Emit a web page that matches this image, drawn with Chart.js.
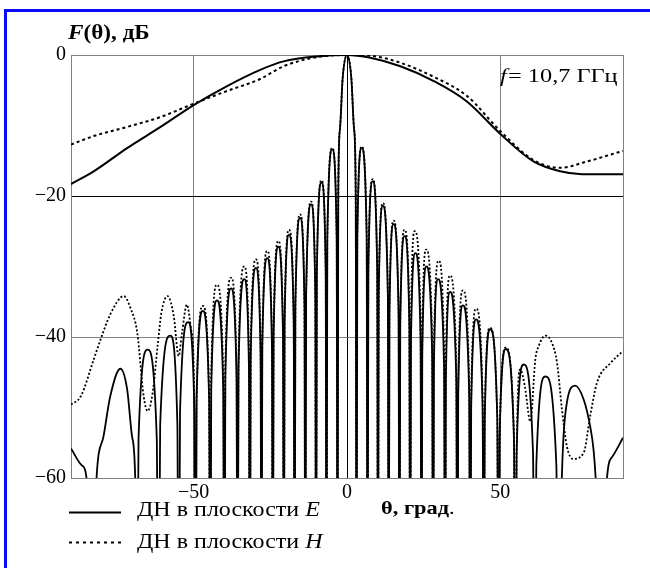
<!DOCTYPE html>
<html><head><meta charset="utf-8">
<script src="https://cdn.jsdelivr.net/npm/chart.js@4/dist/chart.umd.min.js"></script>
<style>html,body{margin:0;padding:0;background:#fff}canvas{display:block}</style>
</head><body>
<canvas id="c" width="650" height="568"></canvas>
<script>
// ---- data (theta in degrees, level in dB) ----
const xTickValues = [-90, -50, 0, 50, 90];
const yTickValues = [0, -20, -40, -60];
const legendLabels = ["ДН в плоскости ", "ДН в плоскости "];
const legendPlanes = ["E", "H"];

// element patterns (wide curves)
const elemE = [[-90,-18.3],[-82.6,-16.5],[-71.7,-13.2],[-60.8,-10.2],[-50,-7.1],[-39.1,-4.4],[-28.3,-2.1],[-20.7,-0.9],[-9.8,-0.2],[0,0],[7.6,-0.4],[17.4,-1.6],[28.3,-3.7],[39.1,-6.6],[50,-11.2],[60.8,-15.1],[69.5,-16.5],[76.6,-16.9],[90,-16.9]];
const elemH = [[-90,-12.7],[-82.6,-11.5],[-71.7,-10.2],[-60.8,-8.8],[-50,-6.9],[-39.1,-5.1],[-28.3,-3.4],[-20.7,-1.6],[-9.8,-0.3],[0,0],[7.6,-0.1],[17.4,-1.1],[28.3,-3.1],[39.1,-5.8],[50,-10.8],[60.8,-14.9],[69.5,-16.0],[78.3,-15.1],[90,-13.6]];

// array patterns (many lobes); values below -60 are nulls outside the plot
const arrE = [
[-90,-55.8],[-86.5,-58.2],[-84.8,-60.5],[-83.5,-90],
[-81.8,-61],[-79.4,-54.1],[-77.2,-48.4],[-73.9,-44.5],[-71.7,-47.4],[-70.1,-54.1],[-69.0,-61],[-68.5,-90],
[-67.98,-54.4],[-65.0,-41.8],[-62.03,-54.4],[-61.5,-90],
[-60.92,-52.4],[-57.6,-39.8],[-55.31,-52.4],[-54.9,-90],
[-54.44,-50.5],[-51.8,-37.9],[-49.76,-50.5],[-49.4,-90],
[-49.04,-48.9],[-47.0,-36.3],[-44.96,-48.9],[-44.6,-90],
[-44.27,-47.4],[-42.4,-34.8],[-40.36,-47.4],[-40.0,-90],
[-39.67,-45.7],[-37.8,-33.1],[-36.02,-45.7],[-35.7,-90],
[-35.37,-44.4],[-33.5,-31.8],[-31.97,-44.4],[-31.7,-90],
[-31.4,-42.8],[-29.7,-30.2],[-28.17,-42.8],[-27.9,-90],
[-27.62,-41.4],[-26.0,-28.8],[-24.47,-41.4],[-24.2,-90],
[-23.93,-39.8],[-22.4,-27.2],[-20.87,-39.8],[-20.6,-90],
[-20.35,-38.1],[-18.9,-25.5],[-17.37,-38.1],[-17.1,-90],
[-16.83,-35.7],[-15.3,-23.1],[-13.86,-35.7],[-13.6,-90],
[-13.32,-33.8],[-11.7,-21.2],[-10.34,-33.8],[-10.1,-90],
[-9.83,-30.7],[-8.3,-18.1],[-6.94,-30.7],[-6.7,-90],
[-6.42,-26.0],[-4.8,-13.4],[-3.36,-26.0],[-3.1,-90],
[-2.85,-20],[-2.3,-10.5],[-1.4,-3.2],[0,0],[1.4,-3.2],[2.3,-10.5],[2.85,-20],[3.1,-90],
[3.36,-25.8],[4.8,-13.2],[6.42,-25.8],[6.7,-90],
[6.96,-30.5],[8.4,-17.9],[9.85,-30.5],[10.1,-90],
[10.34,-34.0],[11.7,-21.4],[13.32,-34.0],[13.6,-90],
[13.84,-36.6],[15.2,-24.0],[16.82,-36.6],[17.1,-90],
[17.36,-38.3],[18.8,-25.7],[20.33,-38.3],[20.6,-90],
[20.86,-40.7],[22.3,-28.1],[24.0,-40.7],[24.3,-90],
[24.54,-42.6],[25.9,-30.0],[27.77,-42.6],[28.1,-90],
[28.34,-44.4],[29.7,-31.8],[31.66,-44.4],[32.0,-90],
[32.24,-46.2],[33.6,-33.6],[35.64,-46.2],[36.0,-90],
[36.27,-48.1],[37.8,-35.5],[39.84,-48.1],[40.2,-90],
[40.49,-50.1],[42.1,-37.5],[44.23,-50.1],[44.6,-90],
[44.92,-51.5],[46.7,-38.9],[49.0,-51.5],[49.4,-90],
[49.76,-54.3],[51.8,-41.7],[54.44,-54.3],[54.9,-90],
[55.31,-56.5],[57.6,-43.9],[60.66,-56.5],[61.2,-90],
[61.73,-58.2],[64.7,-45.6],[68.27,-58.2],[68.9,-90],
[70.0,-61],[70.6,-54.1],[71.7,-49.3],[74.4,-46.9],[77.2,-48.9],[79.3,-52.7],[80.4,-56.0],[81.2,-61],[83.5,-90],
[84.6,-61],[86.5,-57],[90,-54.3]
];

const arrH = [
[-90,-49.6],[-86.8,-48.4],[-82.6,-43.2],[-80.4,-40.4],[-77.2,-36.8],[-72.8,-34.2],[-70.6,-35.9],[-68.4,-39.4],[-66.3,-48.4],[-65.0,-50.5],[-63.4,-48.0],[-61.7,-41.0],[-60.5,-36.5],[-58.5,-34.2],[-56.5,-37.0],[-54.9,-42.7],[-53.8,-39.4],[-52.2,-35.4],[-50.8,-39.0],[-49.8,-48.0],[-49.4,-90],
[-49.04,-48.2],[-47.0,-35.6],[-44.96,-48.2],[-44.6,-90],
[-44.27,-45.2],[-42.4,-32.6],[-40.36,-45.2],[-40.0,-90],
[-39.67,-44.2],[-37.8,-31.6],[-36.02,-44.2],[-35.7,-90],
[-35.37,-42.6],[-33.5,-30.0],[-31.97,-42.6],[-31.7,-90],
[-31.4,-41.6],[-29.7,-29.0],[-28.17,-41.6],[-27.9,-90],
[-27.62,-40.4],[-26.0,-27.8],[-24.47,-40.4],[-24.2,-90],
[-23.93,-39.0],[-22.4,-26.4],[-20.87,-39.0],[-20.6,-90],
[-20.35,-37.4],[-18.9,-24.8],[-17.37,-37.4],[-17.1,-90],
[-16.83,-35.2],[-15.3,-22.6],[-13.86,-35.2],[-13.6,-90],
[-13.32,-33.4],[-11.7,-20.8],[-10.34,-33.4],[-10.1,-90],
[-9.83,-30.4],[-8.3,-17.8],[-6.94,-30.4],[-6.7,-90],
[-6.42,-25.8],[-4.8,-13.2],[-3.36,-25.8],[-3.1,-90],
[-2.85,-20],[-2.3,-10.5],[-1.4,-3.2],[0,0],[1.4,-3.2],[2.3,-10.5],[2.85,-20],[3.1,-90],
[3.36,-25.6],[4.8,-13.0],[6.42,-25.6],[6.7,-90],
[6.96,-30.2],[8.4,-17.6],[9.85,-30.2],[10.1,-90],
[10.34,-33.6],[11.7,-21.0],[13.32,-33.6],[13.6,-90],
[13.84,-36.1],[15.2,-23.5],[16.82,-36.1],[17.1,-90],
[17.36,-37.4],[18.8,-24.8],[20.33,-37.4],[20.6,-90],
[20.86,-37.6],[22.1,-25.0],[24.0,-37.6],[24.3,-90],
[24.54,-40.2],[25.8,-27.6],[27.77,-40.2],[28.1,-90],
[28.34,-41.8],[29.9,-29.2],[31.66,-41.8],[32.0,-90],
[32.24,-43.9],[33.6,-31.3],[35.64,-43.9],[36.0,-90],
[36.27,-46.0],[37.8,-33.4],[39.84,-46.0],[40.2,-90],
[40.49,-48.6],[42.1,-36.0],[44.23,-48.6],[44.6,-90],
[44.92,-51.3],[46.6,-38.7],[49.0,-51.3],[49.4,-90],
[49.76,-54.1],[51.8,-41.5],[54.44,-54.1],[54.9,-90],
[55.3,-57],[56.5,-44.6],[58.0,-47.0],[59.8,-52.0],[61.4,-43.2],[62.5,-41.3],[64.7,-39.8],[66.8,-40.8],[68.5,-43.7],[70.1,-50.3],[71.7,-55.5],[73.7,-57.3],[77.2,-56.4],[79.3,-51.2],[81.5,-46.5],[85.9,-43.7],[90,-42.0]
];

// ---- rendering ----
const SERIF = '"Liberation Serif", "Times New Roman", serif';
const toXY = a => a.map(p => ({x: p[0], y: p[1]}));
const minus = v => (v < 0 ? '\u2212' + Math.abs(v) : String(v));

// draws mixed-style text; sx = horizontal stretch of the glyphs
function drawRich(ctx, x, y, parts, sx) {
  ctx.save();
  ctx.translate(x, y);
  ctx.scale(sx || 1, 1);
  let cx = 0;
  ctx.textBaseline = 'alphabetic';
  ctx.textAlign = 'left';
  ctx.fillStyle = '#000';
  for (const p of parts) {
    ctx.font = p.f;
    ctx.fillText(p.t, cx, 0);
    cx += ctx.measureText(p.t).width + (p.gap || 0);
  }
  ctx.restore();
}

const overlay = {
  id: 'overlay',
  beforeDraw(chart) {
    const ctx = chart.ctx;
    ctx.save();
    ctx.fillStyle = '#fff';
    ctx.fillRect(0, 0, chart.width, chart.height);
    ctx.strokeStyle = '#0a0aff';
    ctx.lineWidth = 3;
    ctx.strokeRect(5.5, 10.5, 700, 700);
    ctx.restore();
  },
  afterDraw(chart) {
    const ctx = chart.ctx;
    ctx.save();
    // y axis title
    drawRich(ctx, 68, 39, [
      {t: 'F', f: 'italic bold 20px ' + SERIF},
      {t: '(θ), дБ', f: 'bold 20px ' + SERIF}
    ], 1.16);
    // frequency note
    drawRich(ctx, 500, 82, [
      {t: 'f', f: 'italic 19px ' + SERIF, gap: 1},
      {t: '= 10,7 ГГц', f: '19px ' + SERIF}
    ], 1.28);
    // x axis title
    drawRich(ctx, 381, 514, [
      {t: 'θ, град', f: 'bold 19px ' + SERIF},
      {t: '.', f: '19px ' + SERIF}
    ], 1.18);
    // legend
    ctx.strokeStyle = '#000';
    ctx.lineWidth = 2;
    ctx.beginPath(); ctx.moveTo(69, 512.5); ctx.lineTo(121, 512.5); ctx.stroke();
    ctx.setLineDash([3, 4]);
    ctx.beginPath(); ctx.moveTo(69, 542.5); ctx.lineTo(121, 542.5); ctx.stroke();
    ctx.setLineDash([]);
    drawRich(ctx, 137, 516, [
      {t: legendLabels[0], f: '20px ' + SERIF},
      {t: legendPlanes[0], f: 'italic 20px ' + SERIF}
    ], 1.2);
    drawRich(ctx, 137, 548, [
      {t: legendLabels[1], f: '20px ' + SERIF},
      {t: legendPlanes[1], f: 'italic 20px ' + SERIF}
    ], 1.2);
    ctx.restore();
  }
};

const lineDs = (data, width, dash) => ({
  data: toXY(data),
  showLine: true,
  borderColor: '#000',
  backgroundColor: '#000',
  borderWidth: width,
  borderDash: dash,
  pointRadius: 0,
  pointHoverRadius: 0,
  cubicInterpolationMode: 'monotone',
  fill: false
});

new Chart(document.getElementById('c'), {
  type: 'scatter',
  data: {
    datasets: [
      lineDs(arrH, 1.8, [2, 2]),
      lineDs(arrE, 1.8, []),
      lineDs(elemH, 2, [3, 3]),
      lineDs(elemE, 2, [])
    ]
  },
  options: {
    responsive: false,
    animation: false,
    devicePixelRatio: 1,
    layout: {padding: {left: 0, top: 55, right: 27, bottom: 0}},
    plugins: {legend: {display: false}, tooltip: {enabled: false}},
    events: [],
    scales: {
      x: {
        type: 'linear', min: -90, max: 90,
        afterBuildTicks: s => { s.ticks = xTickValues.map(v => ({value: v})); },
        afterFit: s => { s.height = 90; },
        ticks: {
          autoSkip: false, maxRotation: 0, padding: 3, color: '#000',
          font: {family: SERIF, size: 20},
          callback: v => (Math.abs(v) === 90 ? '' : minus(v))
        },
        grid: {
          drawTicks: false, lineWidth: 1,
          color: c => (c.tick && c.tick.value === 0 ? '#000' : '#808080')
        },
        border: {display: true, color: '#808080', width: 1}
      },
      y: {
        type: 'linear', min: -60, max: 0,
        afterBuildTicks: s => { s.ticks = yTickValues.map(v => ({value: v})); },
        afterFit: s => { s.width = 71; },
        ticks: {
          autoSkip: false, padding: 5, color: '#000',
          font: {family: SERIF, size: 20},
          callback: v => minus(v)
        },
        grid: {
          drawTicks: false, lineWidth: 1,
          color: c => (c.tick && c.tick.value === -20 ? '#000' : '#808080')
        },
        border: {display: true, color: '#808080', width: 1}
      }
    }
  },
  plugins: [overlay]
});
</script>
</body></html>
